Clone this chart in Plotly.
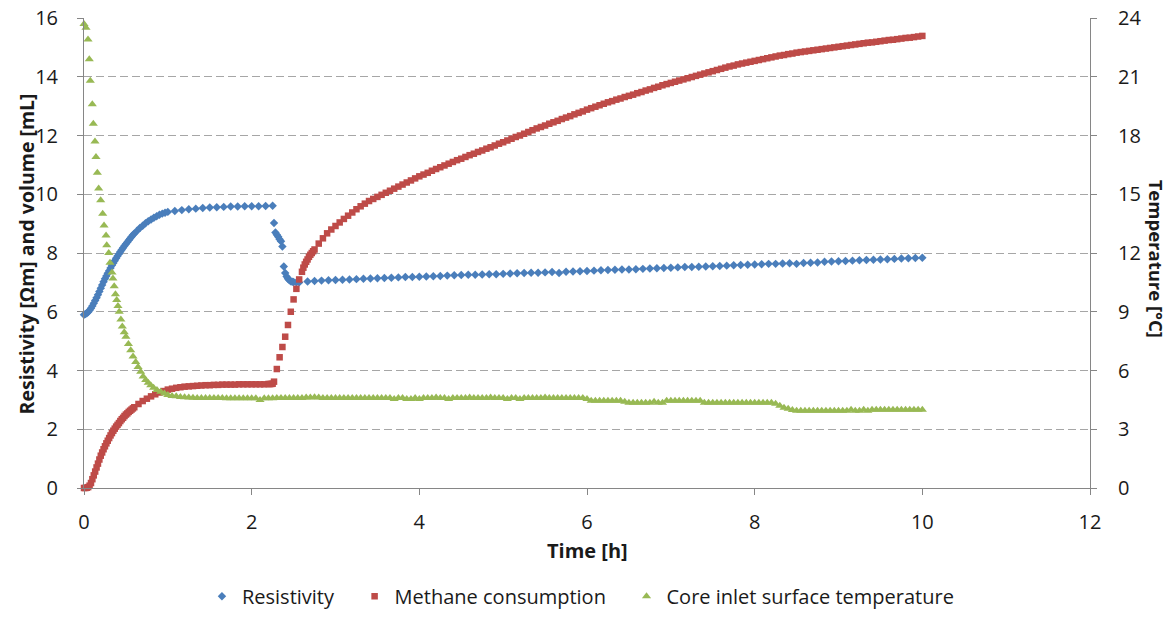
import plotly.graph_objects as go

# ---------------- data ----------------
# Resistivity [Ohm m]; sampling times in minutes
res_minutes = (list(range(0, 37)) + list(range(38, 60, 2)) + list(range(60, 136, 5))
               + [136, 137, 138, 139, 140, 141, 142, 143, 144, 145, 146, 147, 148, 149, 150, 152, 154]
               + list(range(160, 601, 5)))
res_values = [
    5.90, 5.92, 5.95, 5.99, 6.05, 6.12, 6.20, 6.29, 6.38, 6.48, 6.58, 6.69, 6.80, 6.91, 7.02, 7.12,
    7.22, 7.31, 7.40, 7.49, 7.58, 7.66, 7.74, 7.82, 7.90, 7.97, 8.04, 8.11, 8.18, 8.25, 8.31, 8.37,
    8.43, 8.49, 8.55, 8.61, 8.66,
    8.76, 8.85, 8.93, 9.01, 9.08, 9.14, 9.20, 9.25, 9.30, 9.34, 9.37,
    9.40, 9.43, 9.46, 9.49, 9.51, 9.53, 9.55, 9.56, 9.57, 9.58, 9.58, 9.59, 9.59, 9.59, 9.60, 9.61,
    9.02, 8.70, 8.62, 8.55, 8.47, 8.40, 8.22, 7.54, 7.32, 7.20, 7.12, 7.07, 7.04, 7.02, 7.01, 7.00, 7.00,
    7.03, 7.05, 7.06, 7.07, 7.08, 7.09, 7.10, 7.11, 7.12, 7.13, 7.14, 7.15, 7.16, 7.17, 7.18, 7.18, 7.19,
    7.20, 7.21, 7.22, 7.23, 7.24, 7.25, 7.26, 7.26, 7.27, 7.28, 7.28, 7.29,
    7.30, 7.31, 7.32, 7.33, 7.33, 7.34, 7.35, 7.32, 7.36, 7.37, 7.38, 7.39,
    7.40, 7.41, 7.42, 7.43, 7.44, 7.44, 7.45, 7.46, 7.47, 7.48, 7.49, 7.50,
    7.51, 7.52, 7.52, 7.53, 7.54, 7.55, 7.56, 7.57, 7.58, 7.59, 7.60, 7.61,
    7.62, 7.63, 7.63, 7.64, 7.65, 7.63, 7.66, 7.67, 7.68, 7.70, 7.71, 7.72,
    7.73, 7.74, 7.75, 7.76, 7.77, 7.78, 7.79, 7.80, 7.81, 7.82, 7.83, 7.84,
]

# Methane consumption [mL]; sampling times in minutes
methane_minutes = (list(range(0, 37)) + list(range(39, 133, 3))
                   + [133, 134, 135, 136, 138, 140, 142, 144, 146, 148, 150, 152, 154, 156,
                      157, 158, 159, 160, 161, 162, 163, 164, 165]
                   + list(range(168, 601, 3)))
methane_values = [
    0.00, 0.00, 0.01, 0.03, 0.08, 0.17, 0.30, 0.43, 0.56, 0.70, 0.83, 0.97, 1.10, 1.21, 1.32, 1.42,
    1.52, 1.61, 1.70, 1.79, 1.87, 1.95, 2.02, 2.09, 2.15, 2.21, 2.28, 2.34, 2.39, 2.45, 2.50, 2.54,
    2.59, 2.63, 2.67, 2.71, 2.75,
    2.86, 2.96, 3.04, 3.12, 3.19, 3.25, 3.30, 3.35, 3.38, 3.41, 3.43, 3.45, 3.46, 3.47, 3.48, 3.49,
    3.50, 3.50, 3.51, 3.51, 3.52, 3.52, 3.52, 3.52, 3.53, 3.53, 3.53, 3.53, 3.53, 3.53, 3.53, 3.54,
    3.54, 3.54, 3.55, 3.62, 4.05, 4.45, 4.80, 5.15, 5.55, 6.00, 6.42, 6.78, 7.10, 7.36,
    7.50, 7.61, 7.70, 7.78, 7.87, 7.94, 8.00, 8.06, 8.12,
    8.32, 8.50, 8.67, 8.80,
    8.92, 9.04, 9.16, 9.27, 9.38, 9.49, 9.59, 9.68, 9.77, 9.84, 9.91, 9.98, 10.05, 10.12, 10.19, 10.26, 10.33, 10.40, 10.47, 10.54,
    10.61, 10.67, 10.73, 10.80, 10.86, 10.92, 10.98, 11.04, 11.10, 11.16, 11.21, 11.27, 11.33, 11.38, 11.44, 11.49, 11.55, 11.60, 11.66, 11.72,
    11.77, 11.83, 11.89, 11.95, 12.00, 12.06, 12.12, 12.18, 12.24, 12.29, 12.34, 12.40, 12.45, 12.50, 12.56, 12.61, 12.66, 12.72, 12.77, 12.82,
    12.88, 12.93, 12.98, 13.03, 13.08, 13.13, 13.17, 13.22, 13.26, 13.31, 13.35, 13.39, 13.44, 13.48, 13.53, 13.57, 13.62, 13.66, 13.71, 13.75,
    13.79, 13.83, 13.87, 13.91, 13.95, 13.99, 14.03, 14.07, 14.11, 14.15, 14.19, 14.23, 14.27, 14.31, 14.35, 14.38, 14.42, 14.45, 14.48, 14.51,
    14.54, 14.57, 14.60, 14.63, 14.66, 14.69, 14.72, 14.74, 14.77, 14.79, 14.82, 14.84, 14.86, 14.88, 14.90, 14.92, 14.94, 14.96, 14.98, 15.00,
    15.02, 15.04, 15.06, 15.08, 15.10, 15.12, 15.14, 15.16, 15.17, 15.19, 15.21, 15.23, 15.25, 15.26, 15.28, 15.30, 15.32, 15.33, 15.35, 15.37,
    15.39,
]

# Core inlet surface temperature [degC]
temp_drop_hours = [0.000, 0.024, 0.048, 0.063, 0.075, 0.099, 0.111, 0.131, 0.143, 0.159, 0.175, 0.199, 0.223,
                   0.239, 0.263, 0.271, 0.295, 0.310, 0.334, 0.345, 0.360, 0.375, 0.390, 0.405, 0.420, 0.440,
                   0.457, 0.480, 0.500, 0.530, 0.557, 0.585, 0.617, 0.645, 0.676, 0.705, 0.736, 0.766, 0.796,
                   0.830, 0.870, 0.915, 0.960, 1.000, 1.050]
temp_drop_values = [23.7, 23.5, 22.9, 21.9, 20.8, 19.6, 18.6, 17.7, 16.9, 16.1, 15.3, 14.7, 14.0,
                    13.4, 12.9, 12.4, 12.0, 11.5, 11.0, 10.7, 10.3, 9.9, 9.6, 9.3, 9.0, 8.6,
                    8.25, 7.95, 7.72, 7.35, 7.04, 6.72, 6.44, 6.18, 5.93, 5.70, 5.51, 5.37, 5.25,
                    5.12, 5.00, 4.91, 4.82, 4.75, 4.70]
temp_rest_minutes = list(range(66, 601, 3))
temp_rest_values = [
    4.68, 4.65, 4.63, 4.62, 4.61, 4.60, 4.60, 4.60, 4.59, 4.59, 4.59, 4.59, 4.58, 4.58, 4.58, 4.58, 4.58, 4.58, 4.58,
    4.58, 4.50, 4.58, 4.58, 4.58, 4.60, 4.60, 4.60, 4.60, 4.60, 4.60, 4.60, 4.62, 4.62, 4.64, 4.62, 4.60, 4.60, 4.60, 4.60,
    4.60, 4.60, 4.60, 4.60, 4.60, 4.60, 4.60, 4.60, 4.60, 4.60, 4.60, 4.60, 4.60, 4.55, 4.60, 4.60, 4.55, 4.55, 4.60, 4.55,
    4.60, 4.60, 4.60, 4.62, 4.60, 4.60, 4.55, 4.60, 4.60, 4.60, 4.60, 4.62, 4.60, 4.60, 4.60, 4.60, 4.62, 4.60, 4.60, 4.60,
    4.55, 4.60, 4.60, 4.55, 4.60, 4.60, 4.60, 4.60, 4.60, 4.62, 4.60, 4.60, 4.60, 4.60, 4.60, 4.60, 4.60, 4.60, 4.60, 4.55,
    4.45, 4.45, 4.45, 4.45, 4.45, 4.45, 4.45, 4.45, 4.40, 4.35, 4.35, 4.35, 4.35, 4.35, 4.35, 4.40, 4.35, 4.35, 4.45, 4.45,
    4.45, 4.45, 4.45, 4.45, 4.45, 4.45, 4.45, 4.35, 4.35, 4.35, 4.35, 4.35, 4.35, 4.35, 4.35, 4.35, 4.35, 4.35, 4.35, 4.35,
    4.35, 4.35, 4.35, 4.35, 4.30, 4.20, 4.10, 4.05, 3.98, 3.95, 3.95, 3.95, 3.95, 3.95, 3.95, 3.95, 3.95, 3.95, 3.95, 3.95,
    3.95, 3.95, 4.00, 3.95, 3.95, 4.00, 3.95, 4.00, 4.00, 4.00, 4.00, 4.00, 4.00, 4.00, 4.00, 4.00, 4.00, 4.00, 4.00, 4.00,
]

x_ticks = [0, 2, 4, 6, 8, 10, 12]
y_left_ticks = [0, 2, 4, 6, 8, 10, 12, 14, 16]
y_right_ticks = [0, 3, 6, 9, 12, 15, 18, 21, 24]

# ---------------- figure ----------------
res_hours = [m / 60 for m in res_minutes]
methane_hours = [m / 60 for m in methane_minutes]
temp_hours = temp_drop_hours + [m / 60 for m in temp_rest_minutes]
temp_values = temp_drop_values + temp_rest_values

FONT = "Open Sans"
AXIS_COLOR = "#868686"
TEXT_COLOR = "#1a1a1a"
NB = "\u00a0"

fig = go.Figure()
fig.add_trace(go.Scatter(
    x=res_hours, y=res_values, mode="markers", name="Resistivity" + NB * 3,
    marker=dict(symbol="diamond", size=6.5, color="#4A7EBB", line=dict(width=0)),
    cliponaxis=False))
fig.add_trace(go.Scatter(
    x=methane_hours, y=methane_values, mode="markers", name="Methane consumption" + NB * 3,
    marker=dict(symbol="square", size=6.5, color="#BE4B48", line=dict(width=0)),
    cliponaxis=False))
fig.add_trace(go.Scatter(
    x=temp_hours, y=temp_values, mode="markers", name="Core inlet surface temperature",
    yaxis="y2",
    marker=dict(symbol="triangle-up", size=8, color="#98B954", line=dict(width=0)),
    cliponaxis=False))

tickfont = dict(family=FONT, size=20, color=TEXT_COLOR)

fig.update_layout(
    width=1170, height=620,
    margin=dict(l=84, r=80, t=18, b=132, autoexpand=False),
    paper_bgcolor="white", plot_bgcolor="white",
    font=dict(family=FONT, size=20, color=TEXT_COLOR),
    showlegend=True,
    legend=dict(orientation="h", x=0.4935, xanchor="center", y=-0.272, yanchor="bottom",
                font=dict(family=FONT, size=20, color=TEXT_COLOR), itemsizing="trace"),
    xaxis=dict(range=[0, 12], tickvals=x_ticks, showline=True, linecolor=AXIS_COLOR, linewidth=1,
               ticks="outside", ticklen=6, tickcolor=AXIS_COLOR, showgrid=False, zeroline=False,
               tickfont=tickfont, ticklabelstandoff=10, automargin=False),
    yaxis=dict(range=[0, 16], tickvals=y_left_ticks, showline=True, linecolor=AXIS_COLOR, linewidth=1,
               ticks="outside", ticklen=6, tickcolor=AXIS_COLOR, showgrid=True,
               gridcolor="#a6a6a6", gridwidth=1, griddash="8px,4px", zeroline=False,
               tickfont=tickfont, ticklabelstandoff=15, automargin=False),
    yaxis2=dict(range=[0, 24], tickvals=y_right_ticks, overlaying="y", side="right", showline=True,
                linecolor=AXIS_COLOR, linewidth=1, ticks="outside", ticklen=6, tickcolor=AXIS_COLOR,
                showgrid=False, zeroline=False, tickfont=tickfont, ticklabelstandoff=17,
                automargin=False),
    annotations=[
        dict(text="<b>Time [h]</b>", xref="paper", yref="paper", x=0.5, y=-0.132,
             xanchor="center", yanchor="middle", showarrow=False,
             font=dict(family=FONT, size=20, color=TEXT_COLOR)),
        dict(text="<b>Resistivity [Ωm] and volume [mL]</b>", xref="paper", yref="paper",
             x=-0.0567, y=0.499, xanchor="center", yanchor="middle", textangle=-90,
             showarrow=False, font=dict(family=FONT, size=19.5, color=TEXT_COLOR)),
        dict(text="<b>Temperature [°C]</b>", xref="paper", yref="paper",
             x=1.0656, y=0.488, xanchor="center", yanchor="middle", textangle=90,
             showarrow=False, font=dict(family=FONT, size=18.5, color=TEXT_COLOR)),
    ],
)

fig.write_html("out.html")
